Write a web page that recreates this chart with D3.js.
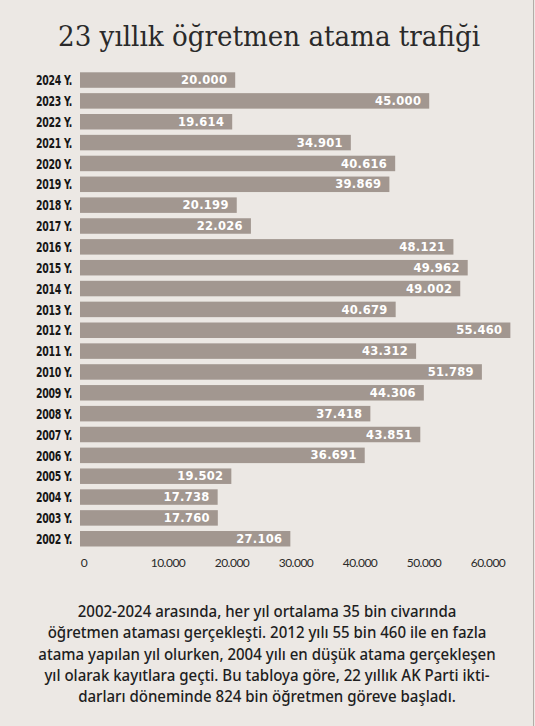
<!DOCTYPE html>
<html>
<head>
<meta charset="utf-8">
<script src="https://cdn.jsdelivr.net/npm/d3@7"></script>
<style>
  html, body { margin: 0; padding: 0; background: #ece8e4; }
  svg { display: block; }
</style>
</head>
<body>
<div id="chart"></div>
<script>
// data, top bar first
var years = ["2024", "2023", "2022", "2021", "2020", "2019", "2018", "2017", "2016", "2015", "2014", "2013",
  "2012", "2011", "2010", "2009", "2008", "2007", "2006", "2005", "2004", "2003", "2002"];
var appointments = [20000, 45000, 19614, 34901, 40616, 39869, 20199, 22026, 48121, 49962, 49002, 40679,
  55460, 43312, 51789, 44306, 37418, 43851, 36691, 19502, 17738, 17760, 27106];
var tickValues = [0, 10000, 20000, 30000, 40000, 50000, 60000];

var title = "23 yıllık öğretmen atama trafiği";
var noteLines = [
  "2002-2024 arasında, her yıl ortalama 35 bin civarında",
  "öğretmen ataması gerçekleşti. 2012 yılı 55 bin 460 ile en fazla",
  "atama yapılan yıl olurken, 2004 yılı en düşük atama gerçekleşen",
  "yıl olarak kayıtlara geçti. Bu tabloya göre, 22 yıllık AK Parti ikti-",
  "darları döneminde 824 bin öğretmen göreve başladı."
];

var svgWidth = 535;
var svgHeight = 726;

var svg = d3.select("#chart")
  .append("svg")
  .attr("width", svgWidth)
  .attr("height", svgHeight);

svg.append("rect")
  .attr("width", svgWidth)
  .attr("height", svgHeight)
  .attr("fill", "#ece8e4");

// thin frame line on the right
svg.append("line")
  .attr("x1", 533.5).attr("x2", 533.5)
  .attr("y1", 0).attr("y2", svgHeight)
  .attr("stroke", "#b3ada8")
  .attr("stroke-width", 1);

// title
svg.append("text")
  .attr("x", 269)
  .attr("y", 46)
  .attr("text-anchor", "middle")
  .attr("font-family", "'DejaVu Serif Condensed', 'DejaVu Serif', serif")
  .attr("font-size", 27)
  .attr("fill", "#2a2a2a")
  .attr("textLength", 422)
  .attr("lengthAdjust", "spacingAndGlyphs")
  .text(title);

// scales
var x = d3.scaleLinear()
  .domain([0, 60000])
  .range([80, 80 + 465.6]);

var y = d3.scaleBand()
  .domain(years)
  .range([72.3, 546.5])
  .paddingInner(0.257)
  .paddingOuter(0);

// the printed axis does not line up with the bars, so it gets its own scale
var xAxisScale = d3.scaleLinear()
  .domain([0, 10000, 60000])
  .range([83.5, 167.5, 487.5]);

var rows = years.map(function(yr, i) {
  return { year: yr, value: appointments[i] };
});

var fmt = function(v) {
  return d3.format(",")(v).replace(/,/g, ".");
};

var barGroup = svg.append("g");

barGroup.selectAll("rect")
  .data(rows)
  .enter()
  .append("rect")
  .attr("x", x(0))
  .attr("y", d => y(d.year))
  .attr("width", d => x(d.value) - x(0))
  .attr("height", y.bandwidth())
  .attr("fill", "#a29790");

barGroup.selectAll("text.value")
  .data(rows)
  .enter()
  .append("text")
  .attr("class", "value")
  .attr("x", d => x(d.value) - 8)
  .attr("y", d => y(d.year) + y.bandwidth() / 2)
  .attr("dy", "0.36em")
  .attr("text-anchor", "end")
  .attr("font-family", "'DejaVu Sans', sans-serif")
  .attr("font-weight", "bold")
  .attr("font-size", 11.5)
  .attr("letter-spacing", 0.3)
  .attr("fill", "#ffffff")
  .text(d => fmt(d.value));

// year labels, squeezed to the narrow print width
var yearG = svg.append("g")
  .attr("font-family", "'Liberation Sans Narrow', 'DejaVu Sans Condensed', sans-serif")
  .attr("font-weight", "bold")
  .attr("font-size", 14.5)
  .attr("letter-spacing", -0.4)
  .attr("fill", "#161616")
  .attr("text-anchor", "end");

yearG.selectAll("text")
  .data(rows)
  .enter()
  .append("text")
  .attr("x", 0)
  .attr("y", d => y(d.year) + y.bandwidth() / 2)
  .attr("dy", "0.36em")
  .text(d => d.year + " Y.");

var wy = yearG.select("text").node().getComputedTextLength();
yearG.attr("transform", "translate(72,0) scale(" + Math.min(1, 36 / wy) + ",1)");

// bottom axis, labels only
var bottomAxis = d3.axisBottom(xAxisScale)
  .tickValues(tickValues)
  .tickSize(0)
  .tickPadding(0)
  .tickFormat(fmt);

var axisG = svg.append("g")
  .attr("transform", "translate(0, 558)")
  .call(bottomAxis);

axisG.select(".domain").remove();
axisG.selectAll("text")
  .attr("font-family", "Lato, sans-serif")
  .attr("font-size", 12)
  .attr("letter-spacing", -0.5)
  .attr("fill", "#2a2a2a");

// note under the chart
var noteG = svg.append("g")
  .attr("font-family", "'Noto Sans', sans-serif")
  .attr("font-weight", 500)
  .attr("font-size", 16)
  .attr("fill", "#1e1e1e")
  .attr("text-anchor", "middle");

noteG.selectAll("text")
  .data(noteLines)
  .enter()
  .append("text")
  .attr("x", 0)
  .attr("y", (d, i) => 617 + i * 21.3)
  .text(d => d);

// squeeze the note sideways so the first line is as wide as in the print
var w0 = noteG.select("text").node().getComputedTextLength();
noteG.attr("transform", "translate(267,0) scale(" + (379 / w0) + ",1)");
</script>
</body>
</html>
